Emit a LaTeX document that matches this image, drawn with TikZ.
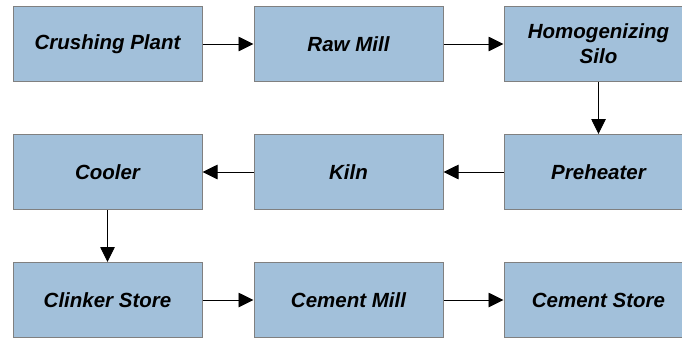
\documentclass[tikz,border=0pt]{standalone}
\usepackage{fontspec}
\setmainfont{Liberation Sans}
\usetikzlibrary{arrows.meta}
\definecolor{boxfill}{HTML}{A2C0DA}
\definecolor{boxline}{HTML}{808080}
\tikzset{
  stage/.style={draw=boxline, line width=1pt, fill=boxfill,
    minimum width=189pt, minimum height=75pt, inner sep=2pt,
    align=center, font=\fontsize{20.5}{25}\selectfont\bfseries\itshape},
  flow/.style={draw=black, line width=0.9pt,
    -{Triangle[length=15pt, width=14.5pt]}}
}
\begin{document}
\begin{tikzpicture}[x=1pt, y=-1pt]
  \useasboundingbox (0,0) rectangle (682,338);
  \clip (0,0) rectangle (682,338);
  \fill[white] (0,0) rectangle (682,338);
  % first row
  \node[stage] (crush) at (107.5,44) {Crushing Plant};
  \node[stage] (raw)   at (348.5,44) {Raw Mill};
  \node[stage] (silo)  at (598.5,44) {Homogenizing\\Silo};
  % second row
  \node[stage] (cool)  at (107.5,172) {Cooler};
  \node[stage] (kiln)  at (348.5,172) {Kiln};
  \node[stage] (pre)   at (598.5,172) {Preheater};
  % third row
  \node[stage] (clink) at (107.5,300) {Clinker Store};
  \node[stage] (cmill) at (348.5,300) {Cement Mill};
  \node[stage] (cstore) at (598.5,300) {Cement Store};
  % process flow
  \draw[flow] (crush) -- (raw);
  \draw[flow] (raw) -- (silo);
  \draw[flow] (silo) -- (pre);
  \draw[flow] (pre) -- (kiln);
  \draw[flow] (kiln) -- (cool);
  \draw[flow] (cool) -- (clink);
  \draw[flow] (clink) -- (cmill);
  \draw[flow] (cmill) -- (cstore);
\end{tikzpicture}
\end{document}
